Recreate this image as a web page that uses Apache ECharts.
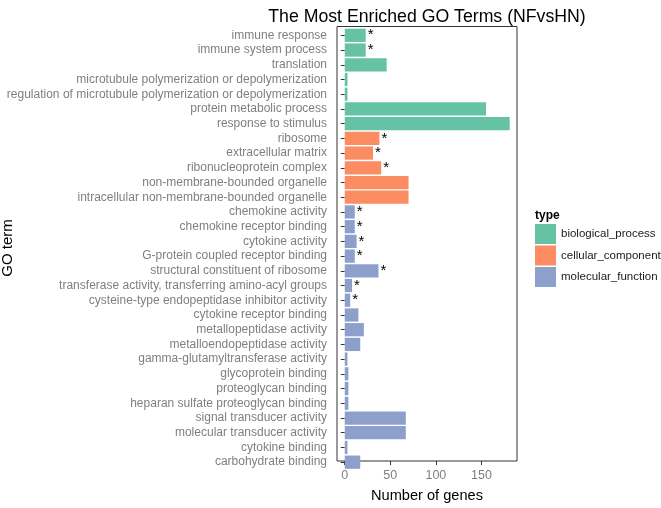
<!DOCTYPE html>
<html><head><meta charset="utf-8">
<script src="https://cdn.jsdelivr.net/npm/echarts@6/dist/echarts.min.js"></script>
<style>html,body{margin:0;padding:0;background:#fff}#c{width:661px;height:508px}</style>
</head><body><div id="c"></div>
<script>
const terms = [
 "immune response","immune system process","translation",
 "microtubule polymerization or depolymerization",
 "regulation of microtubule polymerization or depolymerization",
 "protein metabolic process","response to stimulus",
 "ribosome","extracellular matrix","ribonucleoprotein complex",
 "non-membrane-bounded organelle","intracellular non-membrane-bounded organelle",
 "chemokine activity","chemokine receptor binding","cytokine activity",
 "G-protein coupled receptor binding","structural constituent of ribosome",
 "transferase activity, transferring amino-acyl groups",
 "cysteine-type endopeptidase inhibitor activity","cytokine receptor binding",
 "metallopeptidase activity","metalloendopeptidase activity",
 "gamma-glutamyltransferase activity","glycoprotein binding","proteoglycan binding",
 "heparan sulfate proteoglycan binding","signal transducer activity",
 "molecular transducer activity","cytokine binding","carbohydrate binding"
];
const geneCounts = [23,23,46,3,3,155,181,38,31,40,70,70,11,11,13,11,37,8,6,15,21,17,3,4,4,4,67,67,3,17];
const termTypes = ["biological_process","biological_process","biological_process","biological_process","biological_process","biological_process","biological_process",
 "cellular_component","cellular_component","cellular_component","cellular_component","cellular_component",
 "molecular_function","molecular_function","molecular_function","molecular_function","molecular_function","molecular_function","molecular_function","molecular_function","molecular_function","molecular_function","molecular_function","molecular_function","molecular_function","molecular_function","molecular_function","molecular_function","molecular_function","molecular_function"];
const significant = [1,1,0,0,0,0,0,1,1,1,0,0,1,1,1,1,1,1,1,0,0,0,0,0,0,0,0,0,0,0];
const typeNames = ["biological_process","cellular_component","molecular_function"];
const typeColors = ["#66C2A5","#FC8D62","#8DA0CB"];
const xTicks = [0,50,100,150];
</script>
<script>
const chart = echarts.init(document.getElementById('c'), null, {renderer:'canvas'});
const FONT = '"Liberation Sans", Arial, Helvetica, sans-serif';
const n = terms.length;
// ggplot discrete expansion: 0.6 units each side
const panelTop = 26.5, panelH = 444.5;
const unit = panelH / (n - 1 + 1.2);
const catTop = panelTop + 0.6*unit - 0.5*unit;
const catH = unit * n;
const xMin = -8.5, xMax = 189;

const series = typeNames.map((t, k) => ({
  name: t, type: 'bar', xAxisIndex: 1, yAxisIndex: 1,
  barWidth: '90%', barGap: '-100%',
  itemStyle: {color: typeColors[k]},
  label: {show: false},
  data: geneCounts.map((v, i) => {
    if (termTypes[i] !== t) return null;
    if (significant[i]) return {value: v, label: {show: true, position: 'right', distance: 2, formatter: '*', color: '#000', fontSize: 15, fontFamily: FONT}};
    return v;
  })
}));

chart.setOption({
  backgroundColor: '#fff',
  animation: false,
  title: [
    {text: 'The Most Enriched GO Terms (NFvsHN)', left: 422, textAlign: 'center', top: 3,
     textStyle: {fontFamily: FONT, fontSize: 17.7, fontWeight: 'normal', color: '#000'}},
    {text: 'type', left: 530, top: 205, textStyle: {fontFamily: FONT, fontSize: 12, fontWeight: 'bold', color: '#000'}}
  ],
  legend: {
    orient: 'vertical', left: 530, top: 219, itemWidth: 21, itemHeight: 20, itemGap: 1.5,
    icon: 'rect', data: typeNames,
    textStyle: {fontFamily: FONT, fontSize: 11.5, color: '#1a1a1a'}
  },
  grid: [
    {left: 337, top: panelTop, width: 180, height: panelH, show: true, borderColor: '#333', borderWidth: 1, backgroundColor: 'transparent'},
    {left: 337, top: catTop, width: 180, height: catH, show: false}
  ],
  xAxis: [
    {type: 'value', gridIndex: 0, min: xMin, max: xMax,
     name: 'Number of genes', nameLocation: 'middle', nameGap: 27,
     nameTextStyle: {fontFamily: FONT, fontSize: 14.6, color: '#000'},
     axisLine: {show: false}, splitLine: {show: false},
     axisTick: {show: true, length: 4, lineStyle: {color: '#333'}, customValues: xTicks},
     axisLabel: {fontFamily: FONT, fontSize: 12.5, color: '#7f7f7f', margin: 8, customValues: xTicks}},
    {type: 'value', gridIndex: 1, min: xMin, max: xMax, show: false}
  ],
  yAxis: [
    {type: 'value', gridIndex: 0, show: false, min: 0, max: 1},
    {type: 'category', gridIndex: 1, data: terms, inverse: true,
     axisLine: {show: false},
     axisTick: {show: true, length: 4, alignWithLabel: true, lineStyle: {color: '#333'}},
     axisLabel: {fontFamily: FONT, fontSize: 12, color: '#7f7f7f', margin: 10, interval: 0}}
  ],
  graphic: [
    {type: 'text', x: 8, y: 248, rotation: Math.PI/2,
     style: {text: 'GO term', fontFamily: FONT, fontSize: 15, fill: '#000', textAlign: 'center', textVerticalAlign: 'middle'}}
  ],
  series: series
});
</script>
</body></html>
